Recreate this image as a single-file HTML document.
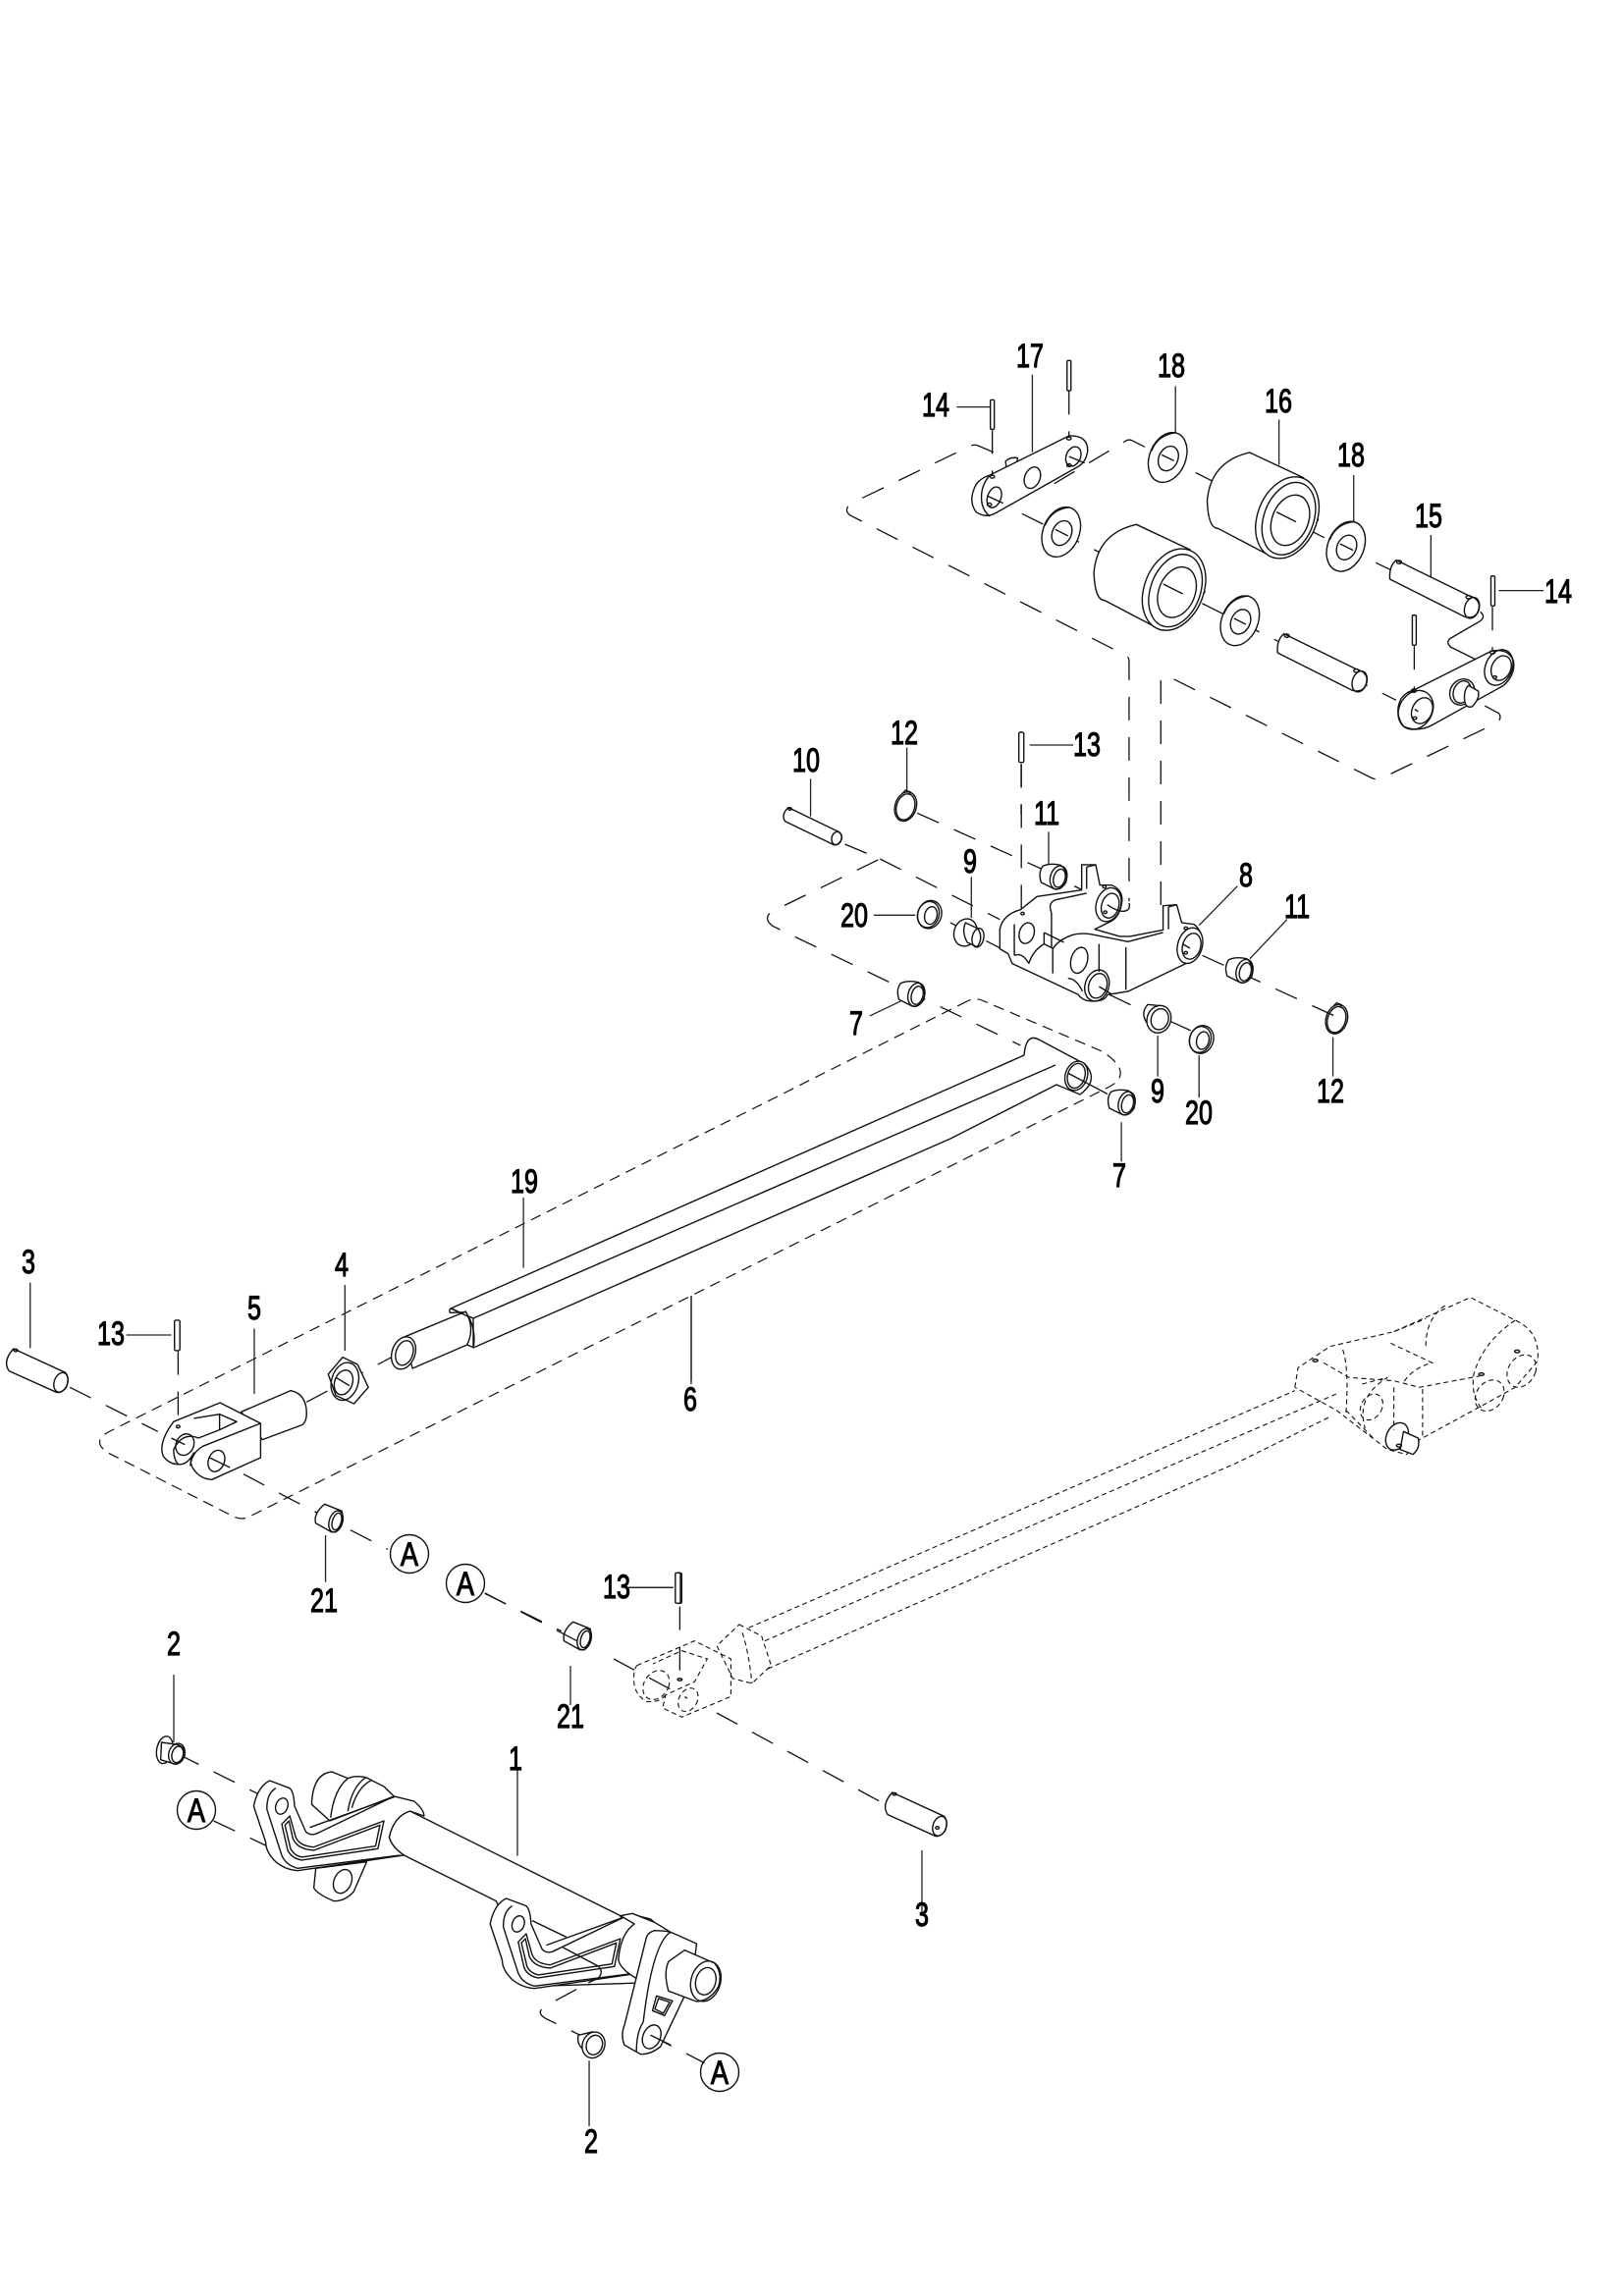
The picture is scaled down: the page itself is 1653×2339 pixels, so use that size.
<!DOCTYPE html>
<html><head><meta charset="utf-8"><style>
html,body{margin:0;padding:0;background:#fff}
svg{display:block}
svg *{vector-effect:non-scaling-stroke}
.p{fill:#fff;stroke:#111;stroke-width:1.4;stroke-linejoin:round}
.n{fill:none;stroke:#111;stroke-width:1.4;stroke-linejoin:round}
.l{fill:none;stroke:#222;stroke-width:1.3}
.d{fill:none;stroke:#111;stroke-width:1.3;stroke-dasharray:24 17}
.b{fill:none;stroke:#111;stroke-width:1.2;stroke-dasharray:11 7}
.g{fill:none;stroke:#111;stroke-width:1.1;stroke-dasharray:5 3.5}
text{font-family:"Liberation Sans",sans-serif;font-size:34px;fill:#000;stroke:#000;stroke-width:1;text-anchor:middle}
</style></head><body>
<svg xmlns="http://www.w3.org/2000/svg" width="1653" height="2339" viewBox="0 0 1653 2339">
<defs>
<g id="washer"><ellipse class="p" cx="0" cy="0" rx="38" ry="77" transform="rotate(10)"/><path class="n" d="M-33,-20 Q-20,-70 18,-76" /><ellipse class="n" cx="2" cy="3" rx="20" ry="38" transform="rotate(10)"/></g>
<g id="roller"><path class="p" d="M850,393 Q770,420 763,540 Q765,625 785,625 L900,715 L990,600 L960,470Z"/><ellipse class="p" cx="927" cy="592" rx="62" ry="126" transform="rotate(10 927 592)"/><ellipse class="n" cx="930" cy="595" rx="52" ry="112" transform="rotate(10 930 595)"/><ellipse class="p" cx="933" cy="600" rx="38" ry="78" transform="rotate(10 933 600)"/><path class="n" d="M905,575 L945,605"/></g>
<g id="pin15"><path class="p" d="M1150,722 Q1135,740 1137,780 L1290,895 Q1318,905 1320,860 Q1318,838 1298,830Z"/><ellipse class="n" cx="1305" cy="868" rx="15" ry="32" transform="rotate(8 1305 868)"/><circle class="n" cx="1156" cy="728" r="5"/><circle class="n" cx="1298" cy="835" r="5"/></g>
<g id="arm"><path class="p" d="M330,222 L380,245 Q390,255 392,300 L420,378 Q430,390 445,385 L640,270 L690,285 Q715,310 715,330 L680,315 Q640,330 628,395 Q635,425 665,450 L400,497 Q370,495 345,470 Q320,440 320,410 L290,300 Q300,240 330,222Z"/><path class="n" d="M345,245 Q322,262 323,310 L360,450 Q370,480 400,490 L655,450 M430,365 L645,270"/><path class="n" d="M360,355 L380,330 L395,395 Q405,422 440,425 L615,345 L600,430 L410,465 Q385,460 375,435Z"/><path class="n" d="M368,358 L378,345 L388,400 Q400,432 440,435 L605,358 L594,422 L410,456 Q390,450 382,430Z"/><ellipse class="n" cx="360" cy="300" rx="15" ry="25" transform="rotate(12 360 300)"/></g>
<g id="pin3"><path class="p" d="M30,522 L145,595 Q155,610 147,640 Q135,660 125,655 L20,590 Q5,560 30,522Z"/><ellipse class="n" cx="135" cy="625" rx="15" ry="30" transform="rotate(10 135 625)"/><circle class="n" cx="35" cy="527" r="4"/></g>
<g id="bush21"><path class="p" d="M720,997 L758,1018 Q765,1050 745,1082 L735,1082 L700,1055 Q695,1025 720,997Z"/><ellipse class="n" cx="745" cy="1050" rx="15" ry="33" transform="rotate(10 745 1050)"/><ellipse class="n" cx="747" cy="1050" rx="10" ry="26" transform="rotate(10 747 1050)"/></g>
<g id="bush11"><path class="p" d="M-28,-35 Q-10,-45 15,-38 Q35,-20 28,15 Q15,40 0,35 L-32,15 Q-40,-15 -28,-35Z"/><ellipse class="n" cx="10" cy="0" rx="20" ry="36" transform="rotate(10 10 0)"/><ellipse class="n" cx="12" cy="2" rx="14" ry="28" transform="rotate(10 12 2)"/></g>
<g id="wash20"><ellipse class="p" cx="0" cy="0" rx="29" ry="43" transform="rotate(8)"/><ellipse class="n" cx="-3" cy="0" rx="26" ry="40" transform="rotate(8 -3 0)"/><ellipse class="n" cx="3" cy="3" rx="15" ry="27" transform="rotate(8 3 3)"/></g>
<g id="ring12"><ellipse class="n" cx="0" cy="0" rx="26" ry="45" transform="rotate(10)"/><ellipse class="n" cx="0" cy="1" rx="22" ry="40" transform="rotate(10)"/><path class="n" d="M-8,-40 L0,-50 L12,-44 L8,-36"/></g>
<g id="flange"><ellipse class="p" cx="-8" cy="-2" rx="28" ry="42" transform="rotate(8 -8 -2)"/><path class="p" d="M-8,-32 L22,-14 Q36,15 20,42 L-4,28 Q-18,-5 -8,-32Z"/><ellipse class="n" cx="22" cy="14" rx="14" ry="29" transform="rotate(8 22 14)"/></g>
</defs>

<!-- top roller assembly -->
<g transform="translate(850,330) scale(.4974,.3333)">
<path class="d" d="M325,392 L292,371 Q285,368 278,373 L32,550 Q18,570 32,585 L595,1012 Q603,1018 603,1030 L603,1764"/>
<path class="d" d="M668,1776 L668,1090 Q668,1073 680,1075 L1100,1388 Q1112,1396 1125,1385 L1355,1220 Q1368,1205 1360,1190 L1310,1150"/>
<path class="d" d="M450,488 L598,356 Q604,352 610,357 L1045,685 L1320,880"/>
<path class="n" d="M1322,880 Q1335,895 1320,910 L1262,960 Q1250,972 1262,988 L1312,1025"/>
<path class="d" d="M310,525 L1150,1150"/>
<path class="d" d="M323,325 L323,465 M480,205 L480,345 M1187,985 L1187,1120 M1347,865 L1347,1000 M382,1345 L382,1500"/>
<path class="l" d="M250,254 L318,254 M405,155 L405,392 M698,190 L698,335 M910,292 L910,430 M1063,462 L1063,605 M1221,645 L1221,775 M1360,815 L1452,815"/>
<g transform="translate(323,232) scale(1,.98)"><rect x="-4" y="0" width="8" height="92" rx="3" class="p"/></g>
<rect x="476" y="112" width="8" height="92" rx="3" class="p"/>
<rect x="1183" y="890" width="8" height="92" rx="3" class="p"/>
<rect x="1344" y="770" width="8" height="92" rx="3" class="p"/>
<path class="p" d="M350,420 Q360,405 375,410 L372,430 L352,440Z"/>
<path class="p" d="M318,462 L480,342 Q520,340 518,390 Q515,420 500,435 L330,578 Q310,595 290,575 Q272,540 290,490 Q300,470 318,462Z"/>
<path class="n" d="M318,462 Q296,500 302,550 Q306,575 318,588"/>
<ellipse class="n" cx="327" cy="530" rx="14" ry="32" transform="rotate(10 327 530)"/>
<ellipse class="n" cx="489" cy="405" rx="15" ry="30" transform="rotate(10 489 405)"/>
<ellipse class="n" cx="405" cy="470" rx="16" ry="33" transform="rotate(10 405 470)"/>
<circle class="n" cx="323" cy="467" r="4.5"/><circle class="n" cx="480" cy="350" r="4.5"/><circle class="n" cx="317" cy="552" r="4.5"/><circle class="n" cx="480" cy="432" r="4.5"/>
<path class="n" d="M312,525 L345,548 M480,405 L512,425"/>
<use href="#washer" x="682" y="408"/>
<use href="#washer" x="464" y="636"/>
<use href="#washer" x="830" y="907"/>
<use href="#washer" x="1047" y="680"/>
<path class="n" d="M670,400 L695,418 M452,628 L478,648 M818,900 L842,918 M1035,672 L1062,692"/>
<use href="#roller"/>
<use href="#roller" x="-232" y="220"/>
<use href="#pin15"/>
<use href="#pin15" x="-230" y="225"/>
<path class="p" d="M1185,1120 L1345,1000 Q1380,990 1390,1030 Q1395,1070 1370,1105 L1225,1225 Q1195,1250 1165,1230 Q1145,1190 1160,1145 Q1170,1125 1185,1120Z"/>
<ellipse class="n" cx="1190" cy="1180" rx="35" ry="60" transform="rotate(10 1190 1180)"/>
<ellipse class="n" cx="1203" cy="1182" rx="21" ry="40" transform="rotate(10 1203 1182)"/>
<ellipse class="n" cx="1360" cy="1050" rx="28" ry="55" transform="rotate(10 1360 1050)"/>
<ellipse class="n" cx="1365" cy="1052" rx="20" ry="38" transform="rotate(10 1365 1052)"/>
<ellipse class="p" cx="1285" cy="1125" rx="25" ry="40" transform="rotate(8 1285 1125)"/>
<ellipse class="n" cx="1285" cy="1125" rx="18" ry="34" transform="rotate(8 1285 1125)"/>
<path class="p" d="M1298,1105 L1318,1122 Q1322,1145 1305,1170 Q1292,1175 1290,1150 Q1288,1120 1298,1105Z"/>
<circle class="n" cx="1186" cy="1121" r="5"/><circle class="n" cx="1347" cy="1004" r="5"/><circle class="n" cx="1188" cy="1205" r="4"/><circle class="n" cx="1352" cy="1080" r="4"/>
<path class="n" d="M1188,1178 L1195,1185"/>
</g>

<!-- bracket assembly -->
<g transform="translate(770,720) scale(.4209,.3333)">
<path class="d" d="M215,420 L300,465 L40,625 Q15,645 40,670 L640,1035"/>
<path class="d" d="M390,325 L690,495"/>
<path class="n" d="M770,548 L803,568"/>
<path class="d" d="M642,175 L642,625"/>
<path class="d" d="M300,465 L590,650"/>
<path class="d" d="M470,660 L610,750"/>
<path class="d" d="M855,880 L930,925 M1000,960 L1070,1000"/>
<path class="d" d="M1080,760 L1400,945"/>
<path class="l" d="M132,220 L132,335 M365,125 L365,260 M662,117 L768,117 M708,382 L708,485 M521,520 L521,645 M285,637 L385,637 M1165,548 L1072,668 M1285,650 L1195,770 M275,945 L350,900 M972,1005 L972,1130 M1072,1065 L1072,1195 M1396,1010 L1396,1130 M884,1270 L884,1390"/>
<rect x="636" y="78" width="12" height="92" rx="4" class="p"/>
<path class="p" d="M78,308 L200,382 Q212,395 205,410 Q195,428 185,420 L70,350 Q60,330 78,308Z"/>
<ellipse class="n" cx="195" cy="402" rx="12" ry="20" transform="rotate(8 195 402)"/>
<circle class="n" cx="82" cy="312" r="4"/>
<use href="#ring12" x="362" y="305"/>
<use href="#ring12" x="1405" y="955"/>
<use href="#bush11" x="722" y="522"/>
<use href="#bush11" x="1172" y="808"/>
<use href="#bush11" x="378" y="880"/>
<use href="#bush11" x="887" y="1212"/>
<use href="#wash20" x="420" y="635"/>
<use href="#wash20" x="1078" y="1017"/>
<use href="#flange" x="515" y="692"/>
<path class="p" d="M948,910 L985,915 L975,990 L945,965 Q930,935 948,910Z"/>
<ellipse class="p" cx="975" cy="955" rx="29" ry="42" transform="rotate(8 975 955)"/>
<ellipse class="n" cx="977" cy="955" rx="21" ry="32" transform="rotate(8 977 955)"/>
<path class="p" d="M590,740 L590,680 Q597,635 640,620 L680,580 L788,560 L788,483 L822,483 L832,545 L860,545 Q890,560 885,600 Q880,640 860,655 L820,680 L880,702 L905,702 L985,682 L985,608 L1018,605 L1030,660 L1060,665 Q1085,690 1075,730 Q1060,770 1040,785 L900,870 L850,880 Q845,900 815,900 Q790,900 780,880 L620,785 L610,755Z"/>
<path class="n" d="M800,490 L822,483 M800,490 L800,556 M998,612 L1018,605 M998,612 L998,680"/>
<ellipse class="p" cx="853" cy="605" rx="30" ry="52" transform="rotate(10 853 605)"/>
<ellipse class="n" cx="857" cy="608" rx="21" ry="38" transform="rotate(10 857 608)"/>
<ellipse class="p" cx="1050" cy="730" rx="30" ry="55" transform="rotate(10 1050 730)"/>
<ellipse class="n" cx="1054" cy="732" rx="22" ry="40" transform="rotate(10 1054 732)"/>
<ellipse class="p" cx="825" cy="852" rx="29" ry="48" transform="rotate(10 825 852)"/>
<ellipse class="n" cx="827" cy="853" rx="22" ry="38" transform="rotate(10 827 853)"/>
<ellipse class="n" cx="655" cy="692" rx="18" ry="32" transform="rotate(10 655 692)"/>
<ellipse class="n" cx="782" cy="775" rx="20" ry="40" transform="rotate(10 782 775)"/>
<path class="n" d="M625,665 L625,760 M625,760 Q645,750 660,785 M715,630 L715,735 M715,630 Q705,600 725,590 L800,570 M718,815 L718,740 Q730,715 760,700 Q780,690 810,695 L900,718 L985,690 M830,725 L830,810 M895,735 L895,865 M697,690 L745,720 M697,725 L718,738 M697,690 L697,725 M755,830 Q775,830 790,870 M660,785 Q670,745 697,725"/>
<circle class="n" cx="645" cy="632" r="4"/><circle class="n" cx="843" cy="550" r="4"/><circle class="n" cx="1040" cy="677" r="4"/><circle class="n" cx="845" cy="628" r="4"/><circle class="n" cx="1040" cy="752" r="4"/>
<path class="n" d="M850,605 Q885,635 900,620 Q905,615 903,600"/>
<path class="n" d="M830,855 L860,878 M1032,725 L1050,738"/>
</g>

<!-- long tube 19 & dashed envelope -->
<path class="b" d="M985,1020 L112,1458 Q92,1468 110,1480 L238,1545 Q246,1549 254,1545 L1128,1108 Q1145,1100 1140,1088 Q1135,1078 1120,1070 L1000,1019 Q993,1016 985,1020Z"/>
<path class="p" d="M459,1333 L1043,1075 Q1045,1052 1058,1059 L1105,1084 Q1120,1100 1100,1115 L1076,1105 L968,1160 L482,1373 L482,1343Z"/>
<path class="n" d="M482,1343 L1075,1085"/>
<g transform="translate(770,720) scale(.4209,.3333)">
<ellipse class="p" cx="775" cy="1128" rx="27" ry="45" transform="rotate(10 775 1128)"/>
<ellipse class="n" cx="775" cy="1128" rx="21" ry="38" transform="rotate(10 775 1128)"/>
<path class="n" d="M755,1120 L800,1150"/>
<path class="d" d="M800,1150 L860,1190"/>
</g>

<g transform="translate(0,1200) scale(.4592,.3333)">
<path class="d" d="M155,640 L350,775 M380,795 L500,880 M540,905 L635,975 L860,1135"/>
<path class="d" d="M1075,1270 L1245,1385"/>
<path class="d" d="M680,685 L900,525"/>
<path class="d" d="M395,530 L395,755"/>
<path class="l" d="M67,320 L67,520 M280,480 L380,480 M564,460 L564,660 M765,327 L765,528 M1161,60 L1161,275 M1533,360 L1533,630 M722,1092 L722,1235 M1390,1252 L1492,1252"/>
<rect x="387" y="435" width="12" height="93" rx="4" class="p"/>
<rect x="1500" y="1207" width="12" height="93" rx="4" class="p"/>
<use href="#pin3"/>
<path class="p" d="M895,487 L1033,408 Q1054,460 1036,510 L915,582Z"/>
<ellipse class="p" cx="895" cy="535" rx="26" ry="50" transform="rotate(10 895 535)"/>
<ellipse class="n" cx="897" cy="535" rx="19" ry="38" transform="rotate(10 897 535)"/>
<path class="n" d="M1000,398 Q995,405 998,412 L1033,410 M1000,398 L1040,425 Q1056,470 1050,518 L1036,510"/>
<path class="p" d="M760,548 L793,570 L817,640 L785,690 L745,665 L728,600Z"/>
<ellipse class="n" cx="765" cy="622" rx="30" ry="58" transform="rotate(8 765 622)"/>
<ellipse class="n" cx="762" cy="625" rx="20" ry="38" transform="rotate(10 762 625)"/>
<path class="n" d="M745,610 L775,635"/>
<path class="p" d="M535,715 L645,650 Q680,660 680,720 Q680,745 670,755 L582,800Z"/>
<path class="p" d="M488,687 L578,750 L578,855 L470,922 Q440,920 425,880 Q420,860 430,840 Q415,880 395,875 Q375,875 362,850 Q350,810 385,745Z"/>
<path class="n" d="M578,750 L450,820 Q425,840 422,880 M430,735 L487,722 L487,770 M487,722 L525,745 L487,770 M487,770 L440,795 Q405,775 385,830 Q385,860 395,875"/>
<ellipse class="n" cx="410" cy="815" rx="20" ry="33" transform="rotate(10 410 815)"/>
<ellipse class="n" cx="480" cy="865" rx="18" ry="33" transform="rotate(10 480 865)"/>
<circle class="n" cx="395" cy="760" r="4"/>
<path class="n" d="M380,795 L410,815 M465,855 L510,885"/>
<use href="#bush21"/>
<use href="#bush21" x="551" y="360"/>
</g>
<path class="l" d="M581,1697 L581,1737"/>

<circle class="p" cx="417" cy="1583" r="19.5"/><circle class="p" cx="474" cy="1613" r="19.5"/>
<circle class="p" cx="200" cy="1844" r="19.5"/><circle class="p" cx="733" cy="2111" r="19.5"/>

<!-- lower shaft item 1 -->
<path class="l" d="M177,1706 L177,1775"/>
<g transform="translate(140,1740) scale(.4082,.3333)">
<path class="d" d="M100,140 L300,262"/>
<path class="d" d="M190,345 L320,420"/>
<path class="d" d="M1280,1000 L1415,1085"/>
<path class="l" d="M948,180 L948,452 M1127,1078 L1127,1278"/>
<path class="p" d="M435,285 Q440,200 485,195 L525,215 Q545,205 570,212 L615,240 L640,270 L480,345 L435,295Z"/>
<path class="n" d="M525,215 Q490,250 482,335 M570,212 Q535,240 525,315 M585,220 Q550,240 535,305"/>
<path class="p" d="M445,490 L440,550 Q450,570 490,590 Q520,590 540,560 L572,470Z"/>
<ellipse class="n" cx="512" cy="530" rx="22" ry="37" transform="rotate(15 512 530)"/>
<path class="p" d="M680,315 L1205,635 L1260,840 L1000,850 L895,590 L665,450 Q635,425 628,395 Q640,330 680,315Z"/>
<use href="#arm"/>
<use href="#arm" x="590" y="360"/>
<path class="n" d="M985,650 L1070,700 M1062,732 L1148,788 Q1165,805 1150,825 L1125,840"/>
<path class="p" d="M1205,635 L1235,628 L1290,655 L1330,685 L1250,830 Q1205,800 1200,770 Q1205,690 1240,660Z"/>
<path class="p" d="M1290,680 Q1325,680 1340,690 L1395,720 L1380,880 L1365,880 L1305,1035 Q1280,1060 1255,1058 L1215,1030 Q1205,1000 1215,970 L1270,700 Q1275,685 1290,680Z"/>
<path class="n" d="M1330,685 Q1285,720 1262,960 M1262,960 Q1245,990 1245,1050"/>
<path class="p" d="M1365,740 L1440,780 Q1460,810 1450,850 Q1430,895 1395,897 L1325,865 Q1312,810 1325,775Z"/>
<ellipse class="n" cx="1418" cy="835" rx="37" ry="62" transform="rotate(10 1418 835)"/>
<ellipse class="n" cx="1418" cy="835" rx="25" ry="42" transform="rotate(10 1418 835)"/>
<path class="n" d="M1295,880 L1335,895 L1315,940 L1285,925Z M1300,888 L1328,899 L1312,933 L1291,920Z"/>
<ellipse class="n" cx="1283" cy="1005" rx="22" ry="37" transform="rotate(15 1283 1005)"/>
<path class="n" d="M1280,1000 L1330,1030"/>
<ellipse class="p" cx="68" cy="128" rx="20" ry="42" transform="rotate(8 68 128)"/>
<path class="p" d="M60,105 L100,112 Q120,120 118,145 Q108,175 90,170 L58,158Z"/>
<ellipse class="n" cx="98" cy="140" rx="20" ry="32" transform="rotate(10 98 140)"/>
<ellipse class="n" cx="100" cy="142" rx="14" ry="25" transform="rotate(10 100 142)"/>
<path class="d" d="M1095,860 L1020,910 Q990,930 1020,950 L1105,1000"/>
<path class="p" d="M1100,1000 L1135,990 L1145,1060 L1115,1045Q1095,1030 1100,1000Z"/>
<ellipse class="p" cx="1138" cy="1030" rx="28" ry="40" transform="rotate(10 1138 1030)"/>
<ellipse class="n" cx="1140" cy="1030" rx="20" ry="30" transform="rotate(10 1140 1030)"/>
</g>

<!-- lower pin 3 and its leader -->
<path class="d" d="M494,1623 L600,1678 M625,1690 L700,1730 M730,1745 L905,1840"/>
<g transform="translate(895,1652) scale(.4592,.3333)"><use href="#pin3"/><circle class="n" cx="130" cy="630" r="4"/></g>
<path class="l" d="M939,1885 L939,1948"/>

<!-- ghost (phantom) assembly -->
<g transform="translate(600,1300) scale(.6505,.3333)">
<path class="l" d="M160,60 L160,320 M60,952 L132,952"/>
<rect x="135" y="907" width="8" height="93" rx="3" class="p"/>
<path class="d" d="M142,1010 L142,1230"/>
<path class="g" d="M250,1075 L1105,350 M275,1115 L1170,360 M280,1200 L1015,570 L1160,430"/>
<path class="g" d="M235,1065 L270,1100 L285,1190 L255,1245 L225,1230 L200,1130Z M240,1090 Q250,1150 255,1245"/>
<path class="g" d="M75,1190 L165,1115 L222,1170 L222,1285 L145,1348 L115,1320 L120,1280 L165,1240 L185,1170 L145,1145 L100,1185 M120,1280 Q110,1305 90,1300 Q70,1280 70,1230 Q70,1200 75,1190"/>
<ellipse class="g" cx="105" cy="1250" rx="20" ry="45" transform="rotate(8 105 1250)"/>
<ellipse class="g" cx="155" cy="1295" rx="15" ry="36" transform="rotate(8 155 1295)"/>
<circle class="n" cx="142" cy="1233" r="3.5"/>
<path class="g" d="M1105,340 L1110,280 L1160,215 L1260,170 L1380,65 L1450,135 Q1490,170 1485,260 L1450,340 L1385,410 L1300,500 L1280,545 L1250,530 L1170,410 L1105,340"/>
<path class="g" d="M1150,265 L1190,310 L1260,320 L1300,340 L1395,305 M1180,225 Q1190,280 1185,420 M1185,410 L1230,500 M1260,340 L1260,470 M1305,345 L1305,490 M1210,330 L1250,310 Q1200,370 1215,465 M1255,205 L1320,265 Q1290,280 1275,325 M1260,170 L1310,130 M1340,90 Q1310,130 1310,215 M1450,135 Q1400,200 1385,300 Q1380,370 1400,410"/>
<ellipse class="g" cx="1225" cy="400" rx="17" ry="40" transform="rotate(8 1225 400)"/>
<ellipse class="g" cx="1410" cy="365" rx="22" ry="48" transform="rotate(8 1410 365)"/>
<ellipse class="g" cx="1460" cy="290" rx="22" ry="50" transform="rotate(8 1460 290)"/>
<ellipse class="n" cx="1265" cy="490" rx="17" ry="42" transform="rotate(8 1265 490)"/>
<path class="p" d="M1275,475 L1298,495 Q1302,525 1290,545 L1270,530Z"/>
<circle class="n" cx="1137" cy="258" r="4"/><circle class="n" cx="1397" cy="300" r="4"/><circle class="n" cx="1453" cy="230" r="4"/><circle class="n" cx="1268" cy="518" r="4"/>
</g>

<!-- labels -->
<g id="labels">
<text transform="translate(953,424) scale(.74,1)">14</text>
<text transform="translate(1049,374) scale(.74,1)">17</text>
<text transform="translate(1193,384) scale(.74,1)">18</text>
<text transform="translate(1302,420) scale(.74,1)">16</text>
<text transform="translate(1376,475) scale(.74,1)">18</text>
<text transform="translate(1455,537) scale(.74,1)">15</text>
<text transform="translate(1587,614) scale(.74,1)">14</text>
<text transform="translate(1107,770) scale(.74,1)">13</text>
<text transform="translate(921,758) scale(.74,1)">12</text>
<text transform="translate(821,786) scale(.74,1)">10</text>
<text transform="translate(1066,840) scale(.74,1)">11</text>
<text transform="translate(988,889) scale(.74,1)">9</text>
<text transform="translate(1269,903) scale(.74,1)">8</text>
<text transform="translate(1321,935) scale(.74,1)">11</text>
<text transform="translate(870,944) scale(.74,1)">20</text>
<text transform="translate(872,1054) scale(.74,1)">7</text>
<text transform="translate(1179,1123) scale(.74,1)">9</text>
<text transform="translate(1221,1145) scale(.74,1)">20</text>
<text transform="translate(1355,1123) scale(.74,1)">12</text>
<text transform="translate(1140,1209) scale(.74,1)">7</text>
<text transform="translate(534,1215) scale(.74,1)">19</text>
<text transform="translate(29,1297) scale(.74,1)">3</text>
<text transform="translate(113,1370) scale(.74,1)">13</text>
<text transform="translate(259,1344) scale(.74,1)">5</text>
<text transform="translate(348,1300) scale(.74,1)">4</text>
<text transform="translate(703,1437) scale(.74,1)">6</text>
<text transform="translate(330,1642) scale(.74,1)">21</text>
<text transform="translate(628,1628) scale(.74,1)">13</text>
<text transform="translate(581,1760) scale(.74,1)">21</text>
<text transform="translate(177,1686) scale(.74,1)">2</text>
<text transform="translate(525,1803) scale(.74,1)">1</text>
<text transform="translate(939,1962) scale(.74,1)">3</text>
<text transform="translate(602,2193) scale(.74,1)">2</text>
<text transform="translate(417,1595) scale(.8,1)">A</text>
<text transform="translate(474,1625) scale(.8,1)">A</text>
<text transform="translate(200,1856) scale(.8,1)">A</text>
<text transform="translate(733,2123) scale(.8,1)">A</text>
</g>
</svg>
</body></html>
